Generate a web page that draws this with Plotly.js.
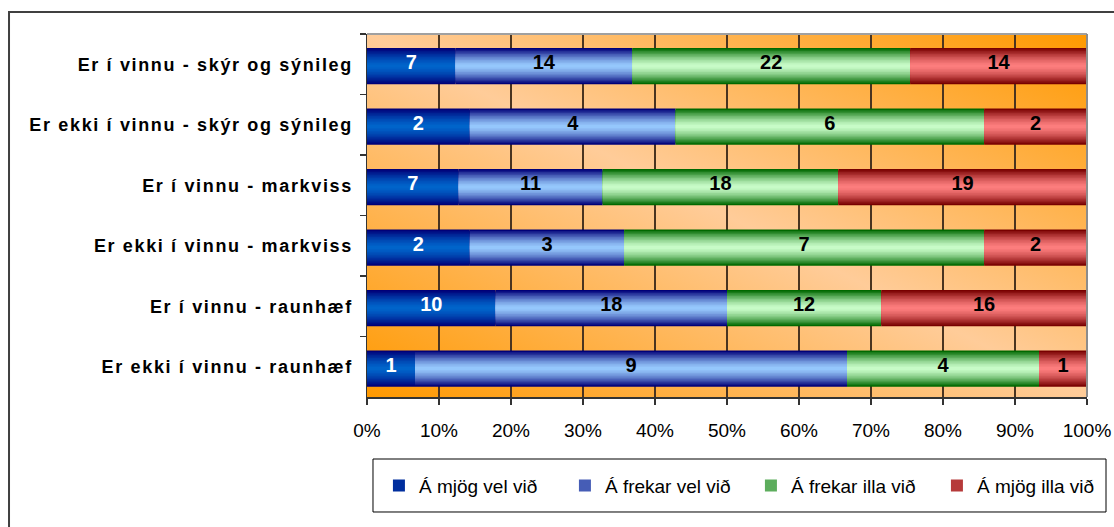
<!DOCTYPE html>
<html>
<head>
<meta charset="utf-8">
<script src="https://cdn.plot.ly/plotly-3.0.1.min.js"></script>
<style>
  html, body { margin: 0; padding: 0; background: #fff; }
  #chart { width: 1114px; height: 527px; }
  .ytick text { letter-spacing: 1.65px; }
</style>
</head>
<body>
<div id="chart"></div>
<script>
// ---- data ----
const categories = [
  "Er í vinnu - skýr og sýnileg",
  "Er ekki í vinnu - skýr og sýnileg",
  "Er í vinnu - markviss",
  "Er ekki í vinnu - markviss",
  "Er í vinnu - raunhæf",
  "Er ekki í vinnu - raunhæf"
];
const seriesNames = ["Á mjög vel við", "Á frekar vel við", "Á frekar illa við", "Á mjög illa við"];
const mjogVel    = [7, 2, 7, 2, 10, 1];
const frekarVel  = [14, 4, 11, 3, 18, 9];
const frekarIlla = [22, 6, 18, 7, 12, 4];
const mjogIlla   = [14, 2, 19, 2, 16, 1];
const xTickVals  = [0, 0.1, 0.2, 0.3, 0.4, 0.5, 0.6, 0.7, 0.8, 0.9, 1];

// ---- styles ----
const seriesValues = [mjogVel, frekarVel, frekarIlla, mjogIlla];
const edgeColors   = [[0, 0, 120], [0, 0, 120], [0, 105, 0], [120, 0, 0]];
const centerColors = [[0, 102, 204], [153, 204, 255], [204, 255, 204], [255, 128, 128]];
const labelColors  = ["#ffffff", "#000000", "#000000", "#000000"];
const barWidth = 0.6;
const barShift = 0.03;
const nLayers = 12;

function mix(a, b, t) {
  return "rgb(" + a.map((v, i) => Math.round(v + (b[i] - v) * t)).join(",") + ")";
}

const totals = categories.map((_, i) => seriesValues.reduce((s, arr) => s + arr[i], 0));
const fractions = seriesValues.map(arr => arr.map((v, i) => v / totals[i]));
const bases = [];
let running = categories.map(() => 0);
fractions.forEach(fr => {
  bases.push(running.slice());
  running = running.map((r, i) => r + fr[i]);
});

const traces = [];
// gradient bars: stacked layers of shrinking width
fractions.forEach((fr, s) => {
  for (let k = 0; k < nLayers; k++) {
    const d = 1 - k / nLayers;          // 1 = outer edge, small = centre
    const t = Math.pow(d, 1.5);
    const w = barWidth * d;
    traces.push({
      type: "bar",
      orientation: "h",
      y: categories,
      x: fr,
      base: bases[s],
      width: w,
      offset: -w / 2 + barShift,
      marker: { color: mix(centerColors[s], edgeColors[s], t), line: { width: 0 } },
      name: seriesNames[s],
      legendgroup: seriesNames[s],
      showlegend: k === 4,
      hoverinfo: "skip"
    });
  }
});
// value labels
fractions.forEach((fr, s) => {
  traces.push({
    type: "scatter",
    mode: "text",
    y: categories,
    x: fr.map((f, i) => bases[s][i] + f / 2),
    text: seriesValues[s].map(String),
    textposition: "middle center",
    textfont: { family: "Liberation Sans, Arial, sans-serif", size: 20, color: labelColors[s], weight: "bold" },
    showlegend: false,
    hoverinfo: "skip",
    cliponaxis: false
  });
});

const bgSvg = "<svg xmlns='http://www.w3.org/2000/svg' width='720' height='363' viewBox='0 0 720 363' preserveAspectRatio='none'>" +
  "<defs><linearGradient id='g' x1='0' y1='1' x2='1' y2='0'>" +
  "<stop offset='0' stop-color='#FF9900'/><stop offset='0.5' stop-color='#FFCC99'/><stop offset='1' stop-color='#FF9900'/>" +
  "</linearGradient></defs><rect width='720' height='363' fill='url(#g)'/></svg>";

const layout = {
  width: 1114,
  height: 527,
  margin: { l: 367, r: 27, t: 34, b: 130, pad: 0, autoexpand: false },
  paper_bgcolor: "#ffffff",
  plot_bgcolor: "rgba(0,0,0,0)",
  barmode: "overlay",
  font: { family: "Liberation Sans, Arial, sans-serif", color: "#000" },
  xaxis: {
    range: [0, 1],
    tickvals: xTickVals,
    tickformat: ".0%",
    tickfont: { size: 19, color: "#000" },
    ticks: "outside",
    ticklen: 6,
    tickcolor: "#333",
    tickwidth: 1.5,
    ticklabelstandoff: 10,
    showgrid: true,
    gridcolor: "#4a3420",
    gridwidth: 1.5,
    showline: true,
    linecolor: "#333",
    linewidth: 1.5,
    zeroline: false,
    fixedrange: true
  },
  yaxis: {
    type: "category",
    categoryorder: "array",
    categoryarray: categories,
    range: [5.5, -0.5],
    tickson: "boundaries",
    ticks: "outside",
    ticklen: 6,
    tickcolor: "#333",
    tickwidth: 1.5,
    tickfont: { size: 18, color: "#000", weight: "bold" },
    ticklabelstandoff: 9,
    showgrid: false,
    showline: true,
    linecolor: "#333",
    linewidth: 1.5,
    zeroline: false,
    fixedrange: true
  },
  images: [{
    source: "data:image/svg+xml;charset=utf-8," + encodeURIComponent(bgSvg),
    xref: "paper", yref: "paper",
    x: 0, y: 1, sizex: 1, sizey: 1,
    xanchor: "left", yanchor: "top",
    sizing: "stretch",
    layer: "below"
  }],
  shapes: [
    // outer chart border
    { type: "rect", xref: "paper", yref: "paper", x0: -0.4972, x1: 1.2, y0: -0.6, y1: 1.0606,
      line: { color: "#404040", width: 2 }, fillcolor: "rgba(0,0,0,0)", layer: "below" },
    // plot area top & right border
    { type: "line", xref: "paper", yref: "paper", x0: 0, x1: 1, y0: 1, y1: 1,
      line: { color: "#a0a0a0", width: 2 } },
    { type: "line", xref: "paper", yref: "paper", x0: 1, x1: 1, y0: 0, y1: 1,
      line: { color: "#8c8c8c", width: 2 } },
    // legend box
    { type: "rect", xref: "paper", yref: "paper", x0: 0.00833, x1: 1.02639, y0: -0.3168, y1: -0.1708,
      line: { color: "#000", width: 1 }, fillcolor: "rgba(0,0,0,0)" }
  ],
  legend: {
    orientation: "h",
    traceorder: "normal",
    x: -0.0001, xanchor: "left",
    y: -0.192, yanchor: "top",
    font: { size: 19, color: "#000" },
    entrywidth: 129,
    entrywidthmode: "pixels",
    indentation: 12,
    bgcolor: "rgba(0,0,0,0)",
    borderwidth: 0
  },
  showlegend: true
};

Plotly.newPlot("chart", traces, layout, { staticPlot: true, displayModeBar: false });
</script>
</body>
</html>
